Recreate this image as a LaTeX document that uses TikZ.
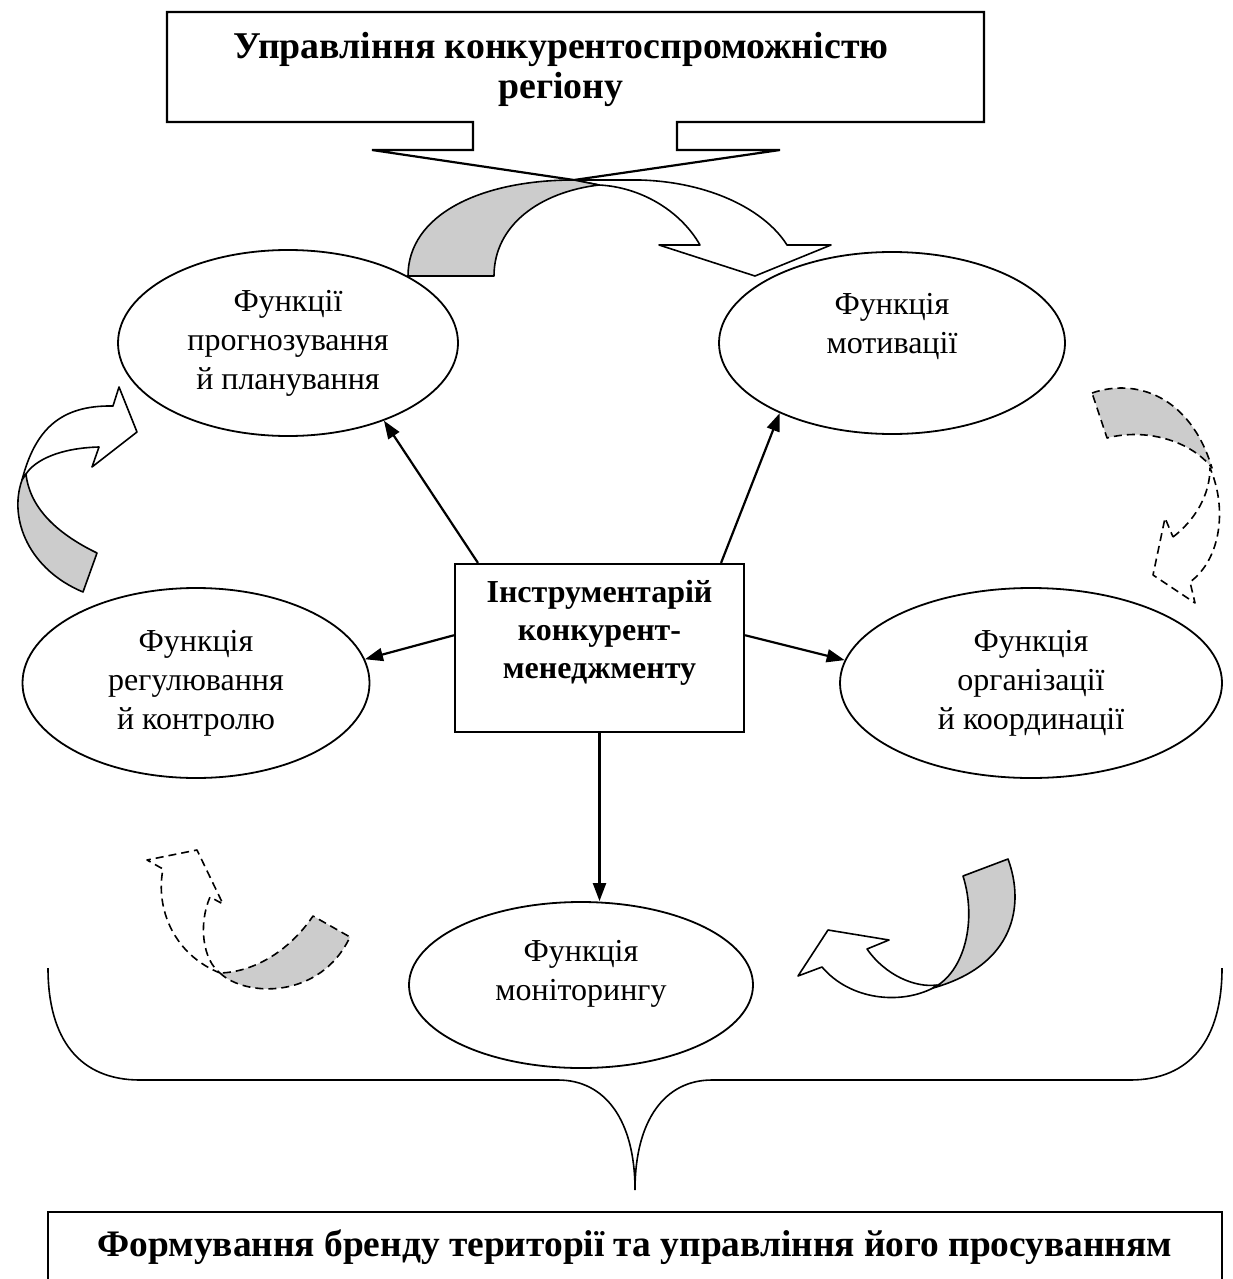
\documentclass[tikz,border=0pt]{standalone}
\usepackage{fontspec}
\setmainfont{Liberation Serif}
\usetikzlibrary{arrows.meta,positioning,calc,shapes.geometric}
\tikzset{
    func/.style={draw=black, line width=0.9pt, ellipse, align=center, inner sep=0pt,
        font=\fontsize{16}{19.5}\selectfont},
    functop/.style={func, text height=32pt, text depth=22pt},
    toolbox/.style={draw=black, line width=1.1pt, align=center, inner sep=0pt,
        minimum width=144.5pt, minimum height=84pt, text height=52pt, text depth=22pt,
        font=\bfseries\fontsize{16}{19}\selectfont},
    titletext/.style={align=center, font=\bfseries\fontsize{18.9}{20}\selectfont},
    brandbox/.style={draw=black, line width=1.1pt, inner sep=0pt,
        minimum width=587pt, minimum height=35pt, font=\bfseries\fontsize{18.7}{22}\selectfont},
    arr/.style={-{Triangle[length=9pt,width=6.5pt]}, line width=1.1pt},
    band/.style={draw=black, line width=0.8pt, line join=round},
    shade/.style={band, fill=black!20},
    dashband/.style={band, dash pattern=on 4pt off 2.5pt},
}

\begin{document}
\begin{tikzpicture}[x=0.5pt, y=-0.5pt]
    \useasboundingbox (0,0) rectangle (1232,1279);
    \clip (0,0) rectangle (1232,1279);

    \draw [black, line width=1.1pt] (167,12) -- (984,12) -- (984,122) -- (677,122) -- (677,150) -- (780,150)
        -- (574,180) -- (372,150) -- (473,150) -- (473,122) -- (167,122) -- cycle;
    \node[titletext] (title) at (561,69) {Управління конкурентоспроможністю\\регіону};

    \node[toolbox] (tools) at (599.5,648) {Інструментарій\\конкурент-\\менеджменту};

    \node[func, minimum width=170pt, minimum height=93pt] (plan) at ($(tools)+(-311.5,-305)$) {Функції\\прогнозування\\й планування};
    \node[functop, minimum width=173pt, minimum height=91pt] (motiv) at ($(tools)+(292.5,-305)$) {Функція\\мотивації};
    \node[func, minimum width=173.5pt, minimum height=95pt] (control) at ($(tools)+(-403.5,35)$) {Функція\\регулювання\\й контролю};
    \node[func, minimum width=191pt, minimum height=95pt] (coord) at ($(tools)+(431.5,35)$) {Функція\\організації\\й координації};
    \node[functop, minimum width=172pt, minimum height=83pt, text height=34pt, text depth=19pt] (monitor) at ($(tools)+(-18.5,337)$) {Функція\\моніторингу};

    \draw [arr] (tools.145) -- (plan.-39);
    \draw [arr] (tools.35) -- (motiv.-148);
    \draw [arr] (tools.175) -- (control.8);
    \draw [arr] (tools.5) -- (coord.173);
    \draw [arr] (tools.south) -- (tools.south |- monitor.north);

    % curved arrows
    \draw [band, fill=white] (574,180) -- (640,180) .. controls (710,182) and (765,210) .. (787,245) -- (831,245) -- (755,276)
        -- (659,245) -- (700,245) .. controls (680,210) and (640,187) .. (599,185) -- cycle;
    \draw [shade] (408,276) .. controls (408,215) and (480,180) .. (574,180) -- (599,185)
        .. controls (540,192) and (494,225) .. (494,276) -- cycle;

    \draw [band, fill=white] (22,480) .. controls (35,430) and (60,405) .. (113,406) -- (119,387) -- (137,432) -- (92,467)
        -- (99,447) .. controls (60,448) and (35,460) .. (26,474) -- cycle;
    \draw [shade] (22,480) .. controls (8,520) and (30,570) .. (83,592) -- (97,553)
        .. controls (60,535) and (30,510) .. (26,474) -- cycle;

    \draw [dashband] (1173,537) .. controls (1195,520) and (1210,495) .. (1210,468) .. controls (1228,510) and (1220,560) .. (1190,582)
        -- (1195,603) -- (1153,575) -- (1165,518) -- cycle;
    \draw [dashband, fill=black!20] (1092,393) .. controls (1135,378) and (1190,395) .. (1212,468)
        .. controls (1190,440) and (1145,428) .. (1107,438) -- cycle;

    \draw [dashband] (220,973) .. controls (175,955) and (155,910) .. (163,869) -- (147,860) -- (197,850) -- (223,904)
        -- (210,897) .. controls (198,925) and (203,960) .. (220,973);
    \draw [dashband, fill=black!20] (220,973) .. controls (245,997) and (320,1000) .. (350,937) -- (313,916)
        .. controls (290,950) and (255,972) .. (220,973) -- cycle;

    \draw [band, fill=white] (933,988) .. controls (900,1005) and (850,1000) .. (822,967) -- (798,976) -- (828,930) -- (889,940)
        -- (867,949) .. controls (885,975) and (915,988) .. (937,985) -- cycle;
    \draw [shade] (963,876) -- (1008,859) .. controls (1025,905) and (1015,965) .. (933,988)
        .. controls (965,972) and (977,920) .. (963,876) -- cycle;

    % brace
    \draw [black, line width=0.8pt] (48,968) .. controls (48,1040) and (80,1080) .. (140,1080) -- (558,1080)
        .. controls (605,1080) and (635,1120) .. (635,1190) .. controls (635,1120) and (665,1080) .. (712,1080)
        -- (1130,1080) .. controls (1190,1080) and (1222,1040) .. (1222,968);

    \node[brandbox] (brand) at (635,1247) {Формування бренду території та управління його просуванням};
\end{tikzpicture}
\end{document}
